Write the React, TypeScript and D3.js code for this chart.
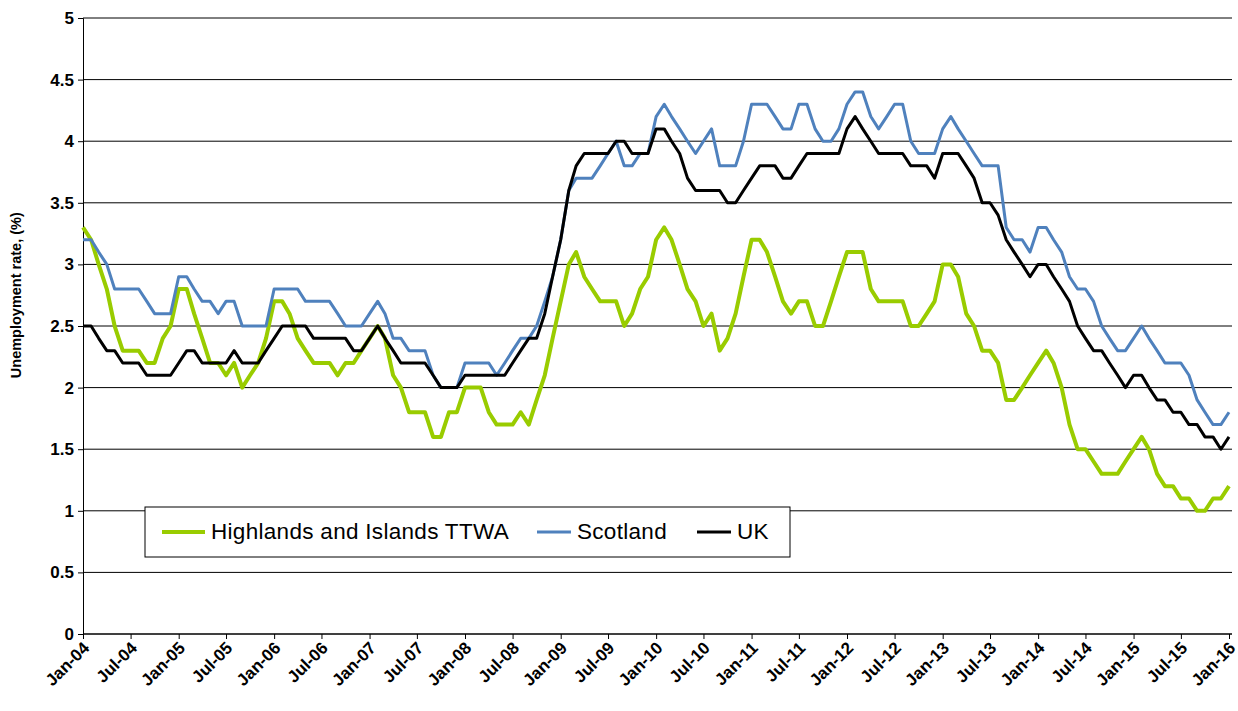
import React, { useEffect, useRef } from 'react';
import * as d3 from 'd3';

// monthly, Jan-04 .. Jan-16
const startYear = 2004;
const monthCount = 145;

const highlands = [
  3.3, 3.2, 3.0, 2.8, 2.5, 2.3, 2.3, 2.3, 2.2, 2.2, 2.4, 2.5,
  2.8, 2.8, 2.6, 2.4, 2.2, 2.2, 2.1, 2.2, 2.0, 2.1, 2.2, 2.4,
  2.7, 2.7, 2.6, 2.4, 2.3, 2.2, 2.2, 2.2, 2.1, 2.2, 2.2, 2.3,
  2.4, 2.5, 2.4, 2.1, 2.0, 1.8, 1.8, 1.8, 1.6, 1.6, 1.8, 1.8,
  2.0, 2.0, 2.0, 1.8, 1.7, 1.7, 1.7, 1.8, 1.7, 1.9, 2.1, 2.4,
  2.7, 3.0, 3.1, 2.9, 2.8, 2.7, 2.7, 2.7, 2.5, 2.6, 2.8, 2.9,
  3.2, 3.3, 3.2, 3.0, 2.8, 2.7, 2.5, 2.6, 2.3, 2.4, 2.6, 2.9,
  3.2, 3.2, 3.1, 2.9, 2.7, 2.6, 2.7, 2.7, 2.5, 2.5, 2.7, 2.9,
  3.1, 3.1, 3.1, 2.8, 2.7, 2.7, 2.7, 2.7, 2.5, 2.5, 2.6, 2.7,
  3.0, 3.0, 2.9, 2.6, 2.5, 2.3, 2.3, 2.2, 1.9, 1.9, 2.0, 2.1,
  2.2, 2.3, 2.2, 2.0, 1.7, 1.5, 1.5, 1.4, 1.3, 1.3, 1.3, 1.4,
  1.5, 1.6, 1.5, 1.3, 1.2, 1.2, 1.1, 1.1, 1.0, 1.0, 1.1, 1.1,
  1.2,
];

const scotland = [
  3.2, 3.2, 3.1, 3.0, 2.8, 2.8, 2.8, 2.8, 2.7, 2.6, 2.6, 2.6,
  2.9, 2.9, 2.8, 2.7, 2.7, 2.6, 2.7, 2.7, 2.5, 2.5, 2.5, 2.5,
  2.8, 2.8, 2.8, 2.8, 2.7, 2.7, 2.7, 2.7, 2.6, 2.5, 2.5, 2.5,
  2.6, 2.7, 2.6, 2.4, 2.4, 2.3, 2.3, 2.3, 2.1, 2.0, 2.0, 2.0,
  2.2, 2.2, 2.2, 2.2, 2.1, 2.2, 2.3, 2.4, 2.4, 2.5, 2.7, 2.9,
  3.2, 3.6, 3.7, 3.7, 3.7, 3.8, 3.9, 4.0, 3.8, 3.8, 3.9, 3.9,
  4.2, 4.3, 4.2, 4.1, 4.0, 3.9, 4.0, 4.1, 3.8, 3.8, 3.8, 4.0,
  4.3, 4.3, 4.3, 4.2, 4.1, 4.1, 4.3, 4.3, 4.1, 4.0, 4.0, 4.1,
  4.3, 4.4, 4.4, 4.2, 4.1, 4.2, 4.3, 4.3, 4.0, 3.9, 3.9, 3.9,
  4.1, 4.2, 4.1, 4.0, 3.9, 3.8, 3.8, 3.8, 3.3, 3.2, 3.2, 3.1,
  3.3, 3.3, 3.2, 3.1, 2.9, 2.8, 2.8, 2.7, 2.5, 2.4, 2.3, 2.3,
  2.4, 2.5, 2.4, 2.3, 2.2, 2.2, 2.2, 2.1, 1.9, 1.8, 1.7, 1.7,
  1.8,
];

const uk = [
  2.5, 2.5, 2.4, 2.3, 2.3, 2.2, 2.2, 2.2, 2.1, 2.1, 2.1, 2.1,
  2.2, 2.3, 2.3, 2.2, 2.2, 2.2, 2.2, 2.3, 2.2, 2.2, 2.2, 2.3,
  2.4, 2.5, 2.5, 2.5, 2.5, 2.4, 2.4, 2.4, 2.4, 2.4, 2.3, 2.3,
  2.4, 2.5, 2.4, 2.3, 2.2, 2.2, 2.2, 2.2, 2.1, 2.0, 2.0, 2.0,
  2.1, 2.1, 2.1, 2.1, 2.1, 2.1, 2.2, 2.3, 2.4, 2.4, 2.6, 2.9,
  3.2, 3.6, 3.8, 3.9, 3.9, 3.9, 3.9, 4.0, 4.0, 3.9, 3.9, 3.9,
  4.1, 4.1, 4.0, 3.9, 3.7, 3.6, 3.6, 3.6, 3.6, 3.5, 3.5, 3.6,
  3.7, 3.8, 3.8, 3.8, 3.7, 3.7, 3.8, 3.9, 3.9, 3.9, 3.9, 3.9,
  4.1, 4.2, 4.1, 4.0, 3.9, 3.9, 3.9, 3.9, 3.8, 3.8, 3.8, 3.7,
  3.9, 3.9, 3.9, 3.8, 3.7, 3.5, 3.5, 3.4, 3.2, 3.1, 3.0, 2.9,
  3.0, 3.0, 2.9, 2.8, 2.7, 2.5, 2.4, 2.3, 2.3, 2.2, 2.1, 2.0,
  2.1, 2.1, 2.0, 1.9, 1.9, 1.8, 1.8, 1.7, 1.7, 1.6, 1.6, 1.5,
  1.6,
];

const yTicks = [0, 0.5, 1, 1.5, 2, 2.5, 3, 3.5, 4, 4.5, 5];

const series = [
  { name: 'Highlands and Islands TTWA', values: highlands, color: '#99CC00', width: 4 },
  { name: 'Scotland', values: scotland, color: '#4F81BD', width: 3 },
  { name: 'UK', values: uk, color: '#000000', width: 3 },
];

const W = 1238;
const H = 711;
const margin = { top: 18, right: 6, bottom: 77, left: 83 };

export default function App() {
  const svgRef = useRef<SVGSVGElement>(null);

  useEffect(() => {
    if (!svgRef.current) return;
    const svg = d3.select(svgRef.current);
    svg.selectAll('*').remove();

    const dates = d3.range(monthCount).map((i) => new Date(startYear, i, 1));
    const x = d3.scaleTime()
      .domain([dates[0], dates[monthCount - 1]])
      .range([margin.left, W - margin.right - 3]);
    const y = d3.scaleLinear().domain([0, 5]).range([H - margin.bottom, margin.top]);

    const font = '"Liberation Sans", Arial, sans-serif';

    // gridlines
    svg.append('g')
      .selectAll('line')
      .data(yTicks)
      .join('line')
      .attr('x1', margin.left)
      .attr('x2', W - margin.right)
      .attr('y1', (d) => y(d))
      .attr('y2', (d) => y(d))
      .attr('stroke', '#000')
      .attr('stroke-width', 1);

    // y axis
    const yAxis = svg.append('g')
      .attr('transform', `translate(${margin.left},0)`)
      .call(d3.axisLeft(y).tickValues(yTicks).tickSize(5).tickFormat((d) => String(d)));
    yAxis.select('.domain').attr('stroke', '#000');
    yAxis.selectAll('text')
      .attr('font-family', font)
      .attr('font-size', 17)
      .attr('font-weight', 'bold')
      .attr('fill', '#000')
      .attr('dx', '-1');

    // x axis
    const tickDates = d3.range(0, monthCount, 6).map((i) => dates[i]);
    const xAxis = svg.append('g')
      .attr('transform', `translate(0,${H - margin.bottom})`)
      .call(d3.axisBottom(x).tickValues(tickDates).tickSize(5).tickFormat((d) => d3.timeFormat('%b-%y')(d as Date)));
    xAxis.select('.domain').attr('stroke', '#000').attr('d', `M${margin.left},0H${W - margin.right}`);
    xAxis.selectAll('text')
      .attr('font-family', font)
      .attr('font-size', 17)
      .attr('font-weight', 'bold')
      .attr('fill', '#000')
      .attr('text-anchor', 'end')
      .attr('y', 0)
      .attr('dy', 0)
      .attr('transform', 'translate(7,15) rotate(-45)');

    // y title
    svg.append('text')
      .attr('transform', `translate(21,${y(2.75)}) rotate(-90)`)
      .attr('text-anchor', 'middle')
      .attr('font-family', font)
      .attr('font-size', 14.5)
      .attr('font-weight', 'bold')
      .text('Unemployment rate, (%)');

    // lines
    series.forEach((s) => {
      const line = d3.line<number>()
        .x((_, i) => x(dates[i]))
        .y((d) => y(d));
      svg.append('path')
        .datum(s.values)
        .attr('fill', 'none')
        .attr('stroke', s.color)
        .attr('stroke-width', s.width)
        .attr('stroke-linejoin', 'round')
        .attr('d', line);
    });

    // legend
    const lg = svg.append('g').attr('transform', 'translate(145,507)');
    lg.append('rect')
      .attr('width', 645)
      .attr('height', 50)
      .attr('fill', '#fff')
      .attr('stroke', '#000')
      .attr('stroke-width', 1);
    const items = [
      { lx: 17, len: 43 },
      { lx: 392, len: 34 },
      { lx: 552, len: 34 },
    ];
    series.forEach((s, i) => {
      const it = items[i];
      lg.append('line')
        .attr('x1', it.lx)
        .attr('x2', it.lx + it.len)
        .attr('y1', 25)
        .attr('y2', 25)
        .attr('stroke', s.color)
        .attr('stroke-width', s.width);
      lg.append('text')
        .attr('x', it.lx + it.len + 6)
        .attr('y', 32)
        .attr('font-family', font)
        .attr('font-size', 22.5)
        .attr('letter-spacing', 0.3)
        .text(s.name);
    });
  }, []);

  return (
    <svg
      ref={svgRef}
      width={W}
      height={H}
      style={{ position: 'absolute', left: 0, top: 0, background: '#fff' }}
    />
  );
}
